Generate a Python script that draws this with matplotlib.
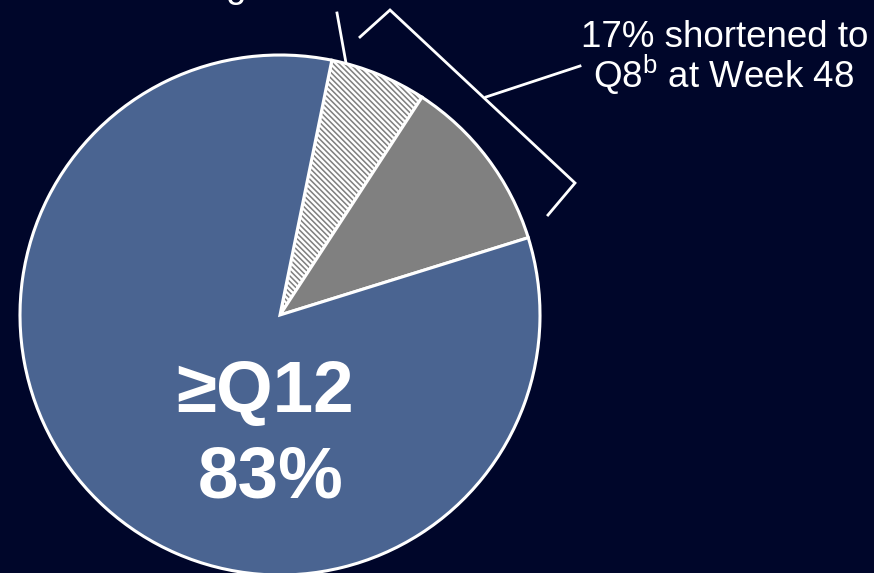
import matplotlib
matplotlib.use("Agg")
import matplotlib.pyplot as plt

plt.rcParams['font.family'] = ['Liberation Sans', 'DejaVu Sans']
plt.rcParams['mathtext.fontset'] = 'custom'
plt.rcParams['mathtext.rm'] = 'Liberation Sans'
plt.rcParams['hatch.linewidth'] = 1.7

# dosing interval share at Week 48 (%)
groups = ['Shortened (early)', 'Shortened to Q8', '>=Q12']
shares = [6, 11, 83]
main_label = '≥Q12'
main_pct = '83%'
bracket_lines = ['17% shortened to', 'Q8$^{\\mathrm{b}}$ at Week 48']
top_label = '6% shortened during'

bg = '#00062a'
face = ['#808080', '#808080', '#4a6491']
hatches = ['\\' * 6, None, None]

W, H = 874, 573
fig = plt.figure(figsize=(W / 100, H / 100), dpi=100, facecolor=bg)
ax = fig.add_axes([0, 0, 1, 1])
ax.set_facecolor(bg)

wedges, _ = ax.pie(shares, colors=face, startangle=78.5, counterclock=False,
                   center=(280, H - 315), radius=260,
                   wedgeprops=dict(edgecolor='white', linewidth=2.2))
for w, h in zip(wedges, hatches):
    if h:
        w.set_hatch(h)

ax.set_xlim(0, W)
ax.set_ylim(0, H)
ax.set_aspect('auto')
ax.axis('off')

# bracket grouping the two shortened slices
bx = [360, 390, 575, 548]
by = [37, 10, 183, 215]
ax.plot(bx, [H - y for y in by], color='white', lw=2, solid_joinstyle='miter')
ax.plot([486, 580], [H - 97, H - 66], color='white', lw=2)
# leader for the label above the top edge
ax.plot([337, 346], [H - 13, H - 63], color='white', lw=2)

ax.text(725, H - 47, bracket_lines[0], color='white', fontsize=26.5,
        ha='center', va='baseline')
ax.text(724, H - 88, bracket_lines[1], color='white', fontsize=26.5,
        ha='center', va='baseline')
ax.text(246, H + 3, top_label, color='white', fontsize=26.5,
        ha='right', va='baseline', clip_on=False)

ax.text(265, H - 412, main_label, color='white', fontsize=52.5,
        fontweight='bold', ha='center', va='baseline')
ax.text(271, H - 498, main_pct, color='white', fontsize=52.5,
        fontweight='bold', ha='center', va='baseline')

fig.savefig('out.png', dpi=100, facecolor=bg)
